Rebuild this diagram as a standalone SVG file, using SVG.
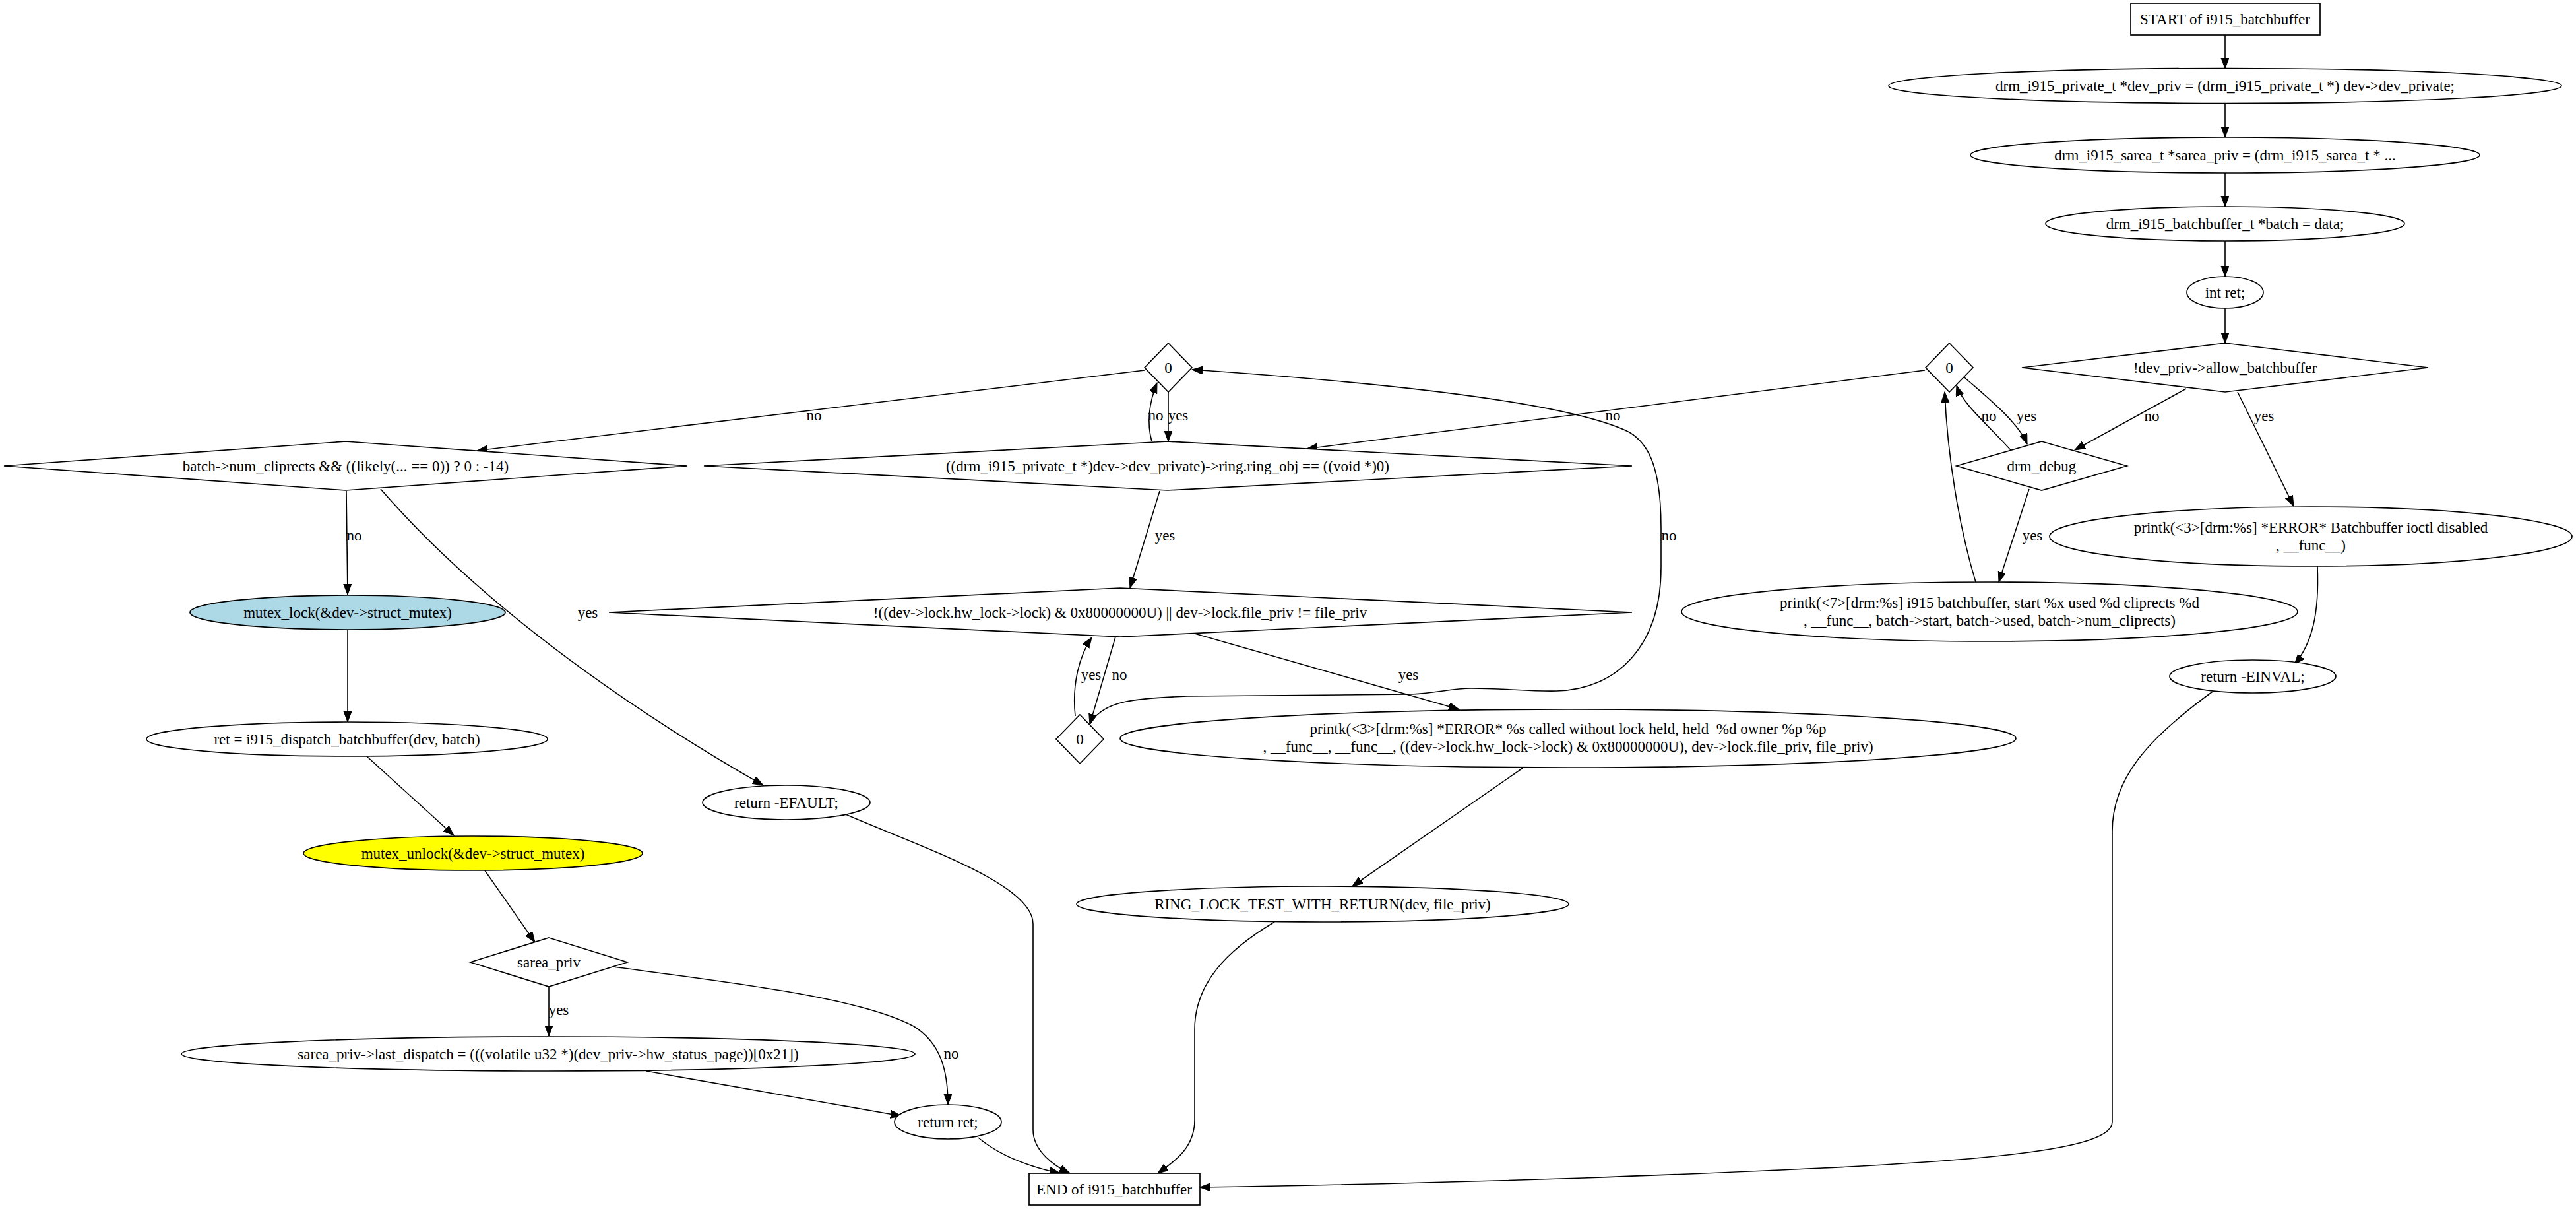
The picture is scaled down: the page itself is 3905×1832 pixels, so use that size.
<svg xmlns="http://www.w3.org/2000/svg" width="3905" height="1832" viewBox="0 0 3905 1832">
<defs>
<style>
.n{fill:#fff;stroke:#000;stroke-width:1.7}
.t{font-family:"Liberation Serif","Times New Roman",serif;font-size:23px;fill:#000;text-anchor:middle}
.e{fill:none;stroke:#000;stroke-width:1.6;marker-end:url(#ah)}
</style>
<marker id="ah" markerUnits="userSpaceOnUse" markerWidth="18" markerHeight="14" refX="16" refY="6" orient="auto">
<path d="M0,0 L16,6 L0,12 z" fill="#000" stroke="#000" stroke-width="1"/>
</marker>
</defs>
<rect width="3905" height="1832" fill="#fff"/>

<g id="connectors">
<path class="e" d="M3373,53 L3373,104"/>
<path class="e" d="M3373,157 L3373,208"/>
<path class="e" d="M3373,262 L3373,313"/>
<path class="e" d="M3373,365 L3373,419"/>
<path class="e" d="M3373,467 L3373,520"/>
<path class="e" d="M3314,589 L3145,682"/>
<path class="e" d="M3392,594 L3477,767"/>
<path class="e" d="M2978,572 C3010,600 3060,640 3073,673"/>
<path class="e" d="M3048,682 C3010,640 2975,612 2966,584"/>
<path class="e" d="M3076,741 L3030,882"/>
<path class="e" d="M2995,882 C2970,800 2952,690 2948,594"/>
<path class="e" d="M3513,858 C3516,930 3505,975 3478,1007"/>
<path class="e" d="M3354,1048 C3255,1120 3202,1180 3202,1260 L3202,1700 C3202,1750 2950,1765 2400,1785 C2150,1793 1950,1797 1819,1799"/>
<path class="e" d="M2918,561 L1981,680"/>
<path class="e" d="M1735,561 L723,683"/>
<path class="e" d="M1771,594 L1771,669"/>
<path class="e" d="M1746,669 C1738,640 1742,610 1754,580"/>
<path class="e" d="M1758,744 L1713,891"/>
<path class="e" d="M1811,960 L2212,1075"/>
<path class="e" d="M1691,965 L1652,1098"/>
<path class="e" d="M1630,1085 C1625,1040 1635,995 1655,966"/>
<path class="e" d="M1655,1093 C1675,1062 1720,1058 1800,1055 L2140,1052 C2180,1050 2200,1043 2230,1043 C2280,1043 2320,1048 2360,1047 C2450,1045 2518,980 2518,860 L2518,800 C2518,700 2495,670 2470,655 C2380,610 2100,580 1807,560"/>
<path class="e" d="M525,744 L527,901"/>
<path class="e" d="M577,741 C680,860 860,1020 1157,1190"/>
<path class="e" d="M527,954 L527,1094"/>
<path class="e" d="M556,1146 L688,1266"/>
<path class="e" d="M735,1319 L811,1428"/>
<path class="e" d="M832,1496 L832,1570"/>
<path class="e" d="M930,1465 C1100,1488 1300,1510 1385,1555 C1425,1580 1437,1620 1437,1674"/>
<path class="e" d="M980,1623 L1366,1691"/>
<path class="e" d="M1483,1724 C1520,1755 1570,1770 1607,1778"/>
<path class="e" d="M1282,1234 C1400,1285 1566,1340 1566,1400 L1566,1712 C1566,1745 1600,1768 1622,1778"/>
<path class="e" d="M1932,1397 C1860,1440 1811,1490 1811,1560 L1811,1697 C1811,1740 1780,1760 1755,1778"/>
<path class="e" d="M2308,1164 L2050,1343"/>
<g class="t">
<text x="3262" y="638">no</text>
<text x="3432" y="638">yes</text>
<text x="3072" y="638">yes</text>
<text x="3015" y="638">no</text>
<text x="3081" y="819">yes</text>
<text x="2445" y="637">no</text>
<text x="1234" y="637">no</text>
<text x="1786" y="637">yes</text>
<text x="1752" y="637">no</text>
<text x="1766" y="819">yes</text>
<text x="2135" y="1030">yes</text>
<text x="1697" y="1030">no</text>
<text x="1654" y="1030">yes</text>
<text x="2530" y="819">no</text>
<text x="537" y="819">no</text>
<text x="891" y="936">yes</text>
<text x="847" y="1538">yes</text>
<text x="1442" y="1604">no</text>
</g>
</g>

<g id="start"><rect class="n" x="3230" y="5" width="287" height="48"/><text class="t" x="3373" y="37">START of i915_batchbuffer</text></g>
<g id="dev_priv"><ellipse class="n" cx="3373" cy="130" rx="510" ry="26.5"/><text class="t" x="3373" y="138">drm_i915_private_t *dev_priv = (drm_i915_private_t *) dev-&gt;dev_private;</text></g>
<g id="sarea_decl"><ellipse class="n" cx="3373" cy="235" rx="386" ry="27"/><text class="t" x="3373" y="243">drm_i915_sarea_t *sarea_priv = (drm_i915_sarea_t * ...</text></g>
<g id="batch_decl"><ellipse class="n" cx="3373" cy="339" rx="272" ry="26"/><text class="t" x="3373" y="347">drm_i915_batchbuffer_t *batch = data;</text></g>
<g id="int_ret"><ellipse class="n" cx="3373" cy="443" rx="58" ry="24"/><text class="t" x="3373" y="451">int ret;</text></g>
<g id="allow"><polygon class="n" points="3373,520 3681,557 3373,594 3065,557"/><text class="t" x="3373" y="565">!dev_priv-&gt;allow_batchbuffer</text></g>
<g id="zero_right"><polygon class="n" points="2955,520 2991,557 2955,594 2919,557"/><text class="t" x="2955" y="565">0</text></g>
<g id="drm_debug"><polygon class="n" points="3095,669 3224,706 3095,743 2966,706"/><text class="t" x="3095" y="714">drm_debug</text></g>
<g id="printk_disabled"><ellipse class="n" cx="3503" cy="813" rx="396" ry="45"/><text class="t" x="3503" y="807">printk(&lt;3&gt;[drm:%s] *ERROR* Batchbuffer ioctl disabled</text><text class="t" x="3503" y="834">, __func__)</text></g>
<g id="printk_debug"><ellipse class="n" cx="3016" cy="927" rx="467" ry="45"/><text class="t" x="3016" y="921">printk(&lt;7&gt;[drm:%s] i915 batchbuffer, start %x used %d cliprects %d</text><text class="t" x="3016" y="948">, __func__, batch-&gt;start, batch-&gt;used, batch-&gt;num_cliprects)</text></g>
<g id="einval"><ellipse class="n" cx="3415" cy="1025" rx="126" ry="25"/><text class="t" x="3415" y="1033">return -EINVAL;</text></g>

<g id="zero_top"><polygon class="n" points="1771,520 1807,557 1771,594 1735,557"/><text class="t" x="1771" y="565">0</text></g>
<g id="ring_obj"><polygon class="n" points="1770,669 2474,706 1770,743 1067,706"/><text class="t" x="1770" y="714">((drm_i915_private_t *)dev-&gt;dev_private)-&gt;ring.ring_obj == ((void *)0)</text></g>
<g id="lock_check"><polygon class="n" points="1698,891 2474,928 1698,965 923,928"/><text class="t" x="1698" y="936">!((dev-&gt;lock.hw_lock-&gt;lock) &amp; 0x80000000U) || dev-&gt;lock.file_priv != file_priv</text></g>
<g id="zero_low"><polygon class="n" points="1637,1083 1673,1120 1637,1157 1601,1120"/><text class="t" x="1637" y="1128">0</text></g>
<g id="printk_lock"><ellipse class="n" cx="2377" cy="1119" rx="679" ry="44"/><text class="t" x="2377" y="1112" xml:space="preserve">printk(&lt;3&gt;[drm:%s] *ERROR* %s called without lock held, held  %d owner %p %p</text><text class="t" x="2377" y="1139">, __func__, __func__, ((dev-&gt;lock.hw_lock-&gt;lock) &amp; 0x80000000U), dev-&gt;lock.file_priv, file_priv)</text></g>
<g id="ring_lock_test"><ellipse class="n" cx="2005" cy="1370" rx="373" ry="27"/><text class="t" x="2005" y="1378">RING_LOCK_TEST_WITH_RETURN(dev, file_priv)</text></g>
<g id="end"><rect class="n" x="1560" y="1778" width="259" height="48"/><text class="t" x="1689" y="1810">END of i915_batchbuffer</text></g>

<g id="cliprects"><polygon class="n" points="524,669 1042,706 524,743 6,706"/><text class="t" x="524" y="714">batch-&gt;num_cliprects &amp;&amp; ((likely(... == 0)) ? 0 : -14)</text></g>
<g id="mutex_lock"><ellipse cx="527" cy="928" rx="239" ry="26" fill="#add8e6" stroke="#000" stroke-width="1.7"/><text class="t" x="527" y="936">mutex_lock(&amp;dev-&gt;struct_mutex)</text></g>
<g id="dispatch"><ellipse class="n" cx="526" cy="1120" rx="304" ry="26"/><text class="t" x="526" y="1128">ret = i915_dispatch_batchbuffer(dev, batch)</text></g>
<g id="mutex_unlock"><ellipse cx="717" cy="1293" rx="257" ry="26" fill="#ffff00" stroke="#000" stroke-width="1.7"/><text class="t" x="717" y="1301">mutex_unlock(&amp;dev-&gt;struct_mutex)</text></g>
<g id="sarea_priv"><polygon class="n" points="832,1421 951,1458 832,1495 713,1458"/><text class="t" x="832" y="1466">sarea_priv</text></g>
<g id="last_dispatch"><ellipse class="n" cx="831" cy="1597" rx="556" ry="26"/><text class="t" x="831" y="1605">sarea_priv-&gt;last_dispatch = (((volatile u32 *)(dev_priv-&gt;hw_status_page))[0x21])</text></g>
<g id="return_ret"><ellipse class="n" cx="1437" cy="1700" rx="81" ry="26"/><text class="t" x="1437" y="1708">return ret;</text></g>
<g id="efault"><ellipse class="n" cx="1192" cy="1216" rx="127" ry="26"/><text class="t" x="1192" y="1224">return -EFAULT;</text></g>
</svg>
